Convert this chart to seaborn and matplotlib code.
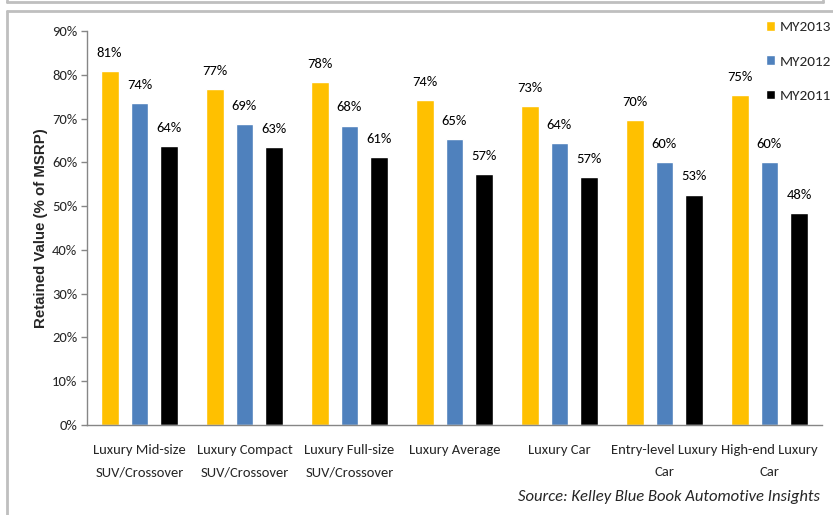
import matplotlib
matplotlib.use("Agg")
import matplotlib.pyplot as plt
from matplotlib.lines import Line2D
import seaborn as sns
import pandas as pd
import numpy as np

categories = ["Luxury Mid-size\nSUV/Crossover", "Luxury Compact\nSUV/Crossover",
              "Luxury Full-size\nSUV/Crossover", "Luxury Average", "Luxury Car",
              "Entry-level Luxury\nCar", "High-end Luxury\nCar"]
series = ["MY2013", "MY2012", "MY2011"]
my2013 = [80.8, 76.7, 78.3, 74.2, 72.8, 69.6, 75.3]
my2012 = [73.5, 68.7, 68.3, 65.3, 64.4, 60.0, 60.0]
my2011 = [63.7, 63.4, 61.2, 57.3, 56.6, 52.6, 48.4]
colors = ["#FFC000", "#4F81BD", "#000000"]
yticks = [0, 10, 20, 30, 40, 50, 60, 70, 80, 90]

sns.set_theme(style="white")
FAM = ["Carlito", "Liberation Sans Narrow", "Roboto Condensed", "Archivo Narrow",
       "Liberation Sans", "DejaVu Sans"]
plt.rcParams["font.family"] = FAM
FS = 10.5

df = pd.DataFrame({
    "category": categories * 3,
    "series": [s for s in series for _ in categories],
    "value": my2013 + my2012 + my2011,
})

fig = plt.figure(figsize=(8.33, 5.15), dpi=100)
ax = fig.add_axes([87/833, 1-425/515, (822-87)/833, (425-31)/515])

sns.barplot(data=df, x="category", y="value", hue="series", hue_order=series,
            order=categories, palette=colors, width=0.857, gap=0.4,
            saturation=1, ax=ax, legend=True)

handles, labels = ax.get_legend_handles_labels()
ax.get_legend().remove()

for cont in ax.containers:
    ax.bar_label(cont, labels=[f"{v:.0f}%" for v in cont.datavalues],
                 padding=9, fontsize=FS, color="#000000")

ax.set_ylim(0, 90)
ax.set_xlim(-0.5, len(categories) - 0.5)
ax.set_yticks(yticks)
ax.set_yticklabels([f"{t}%" for t in yticks], fontsize=FS)
ax.set_xticks(range(len(categories)))
ax.set_xticklabels(categories, fontsize=FS)
ax.tick_params(axis="x", which="major", length=0, pad=14)
ax.set_xticks(np.arange(-0.5, len(categories)), minor=True)
ax.tick_params(axis="x", which="minor", length=6, color="#868686", width=1, direction="out")
ax.tick_params(axis="y", length=4, color="#868686", width=1, direction="out", left=True, pad=3)
ax.set_xlabel("")
ax.set_ylabel("Retained Value (% of MSRP)", fontsize=10.8, fontweight="bold",
              family=["Liberation Sans", "DejaVu Sans"], labelpad=3)
for s in ["top", "right"]:
    ax.spines[s].set_visible(False)
for s in ["left", "bottom"]:
    ax.spines[s].set_color("#868686")
    ax.spines[s].set_linewidth(1)

fig.legend(handles, labels, loc="upper left", bbox_to_anchor=(766/833, 1-21/515),
           frameon=False, fontsize=11, handlelength=0.6, handleheight=0.6,
           handletextpad=0.3, labelspacing=1.45, borderaxespad=0, borderpad=0)

fig.text(820/833, 1-497/515, "Source: Kelley Blue Book Automotive Insights",
         ha="right", va="center", fontsize=12, style="italic")

# outer frame lines
fig.add_artist(Line2D([7/833, 823/833], [1-2/515, 1-2/515], color="#BFBFBF", lw=2))
fig.add_artist(Line2D([7/833, 7/833], [1, 1-2/515], color="#BFBFBF", lw=2))
fig.add_artist(Line2D([823/833, 823/833], [1, 1-2/515], color="#BFBFBF", lw=2))
fig.add_artist(Line2D([7/833, 1], [1-11/515, 1-11/515], color="#BFBFBF", lw=2))
fig.add_artist(Line2D([7/833, 7/833], [0, 1-11/515], color="#BFBFBF", lw=2))

fig.canvas.draw()
for tick in ax.xaxis.get_major_ticks():
    tick.label1.set_linespacing(2.0)

fig.savefig("out.png", dpi=100)
